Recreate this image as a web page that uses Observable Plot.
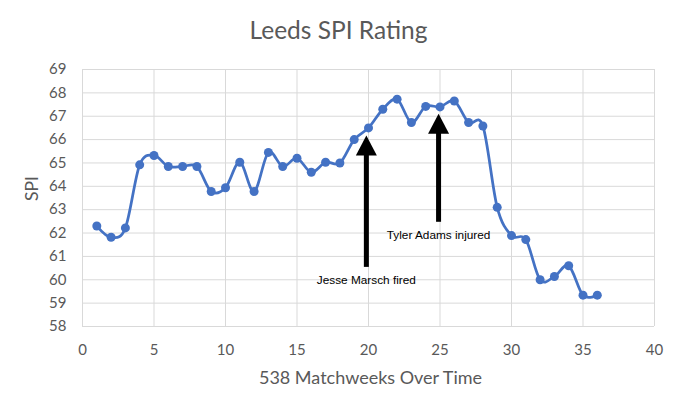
<!DOCTYPE html>
<html><head><meta charset="utf-8">
<script src="https://cdn.jsdelivr.net/npm/d3@7"></script>
<script src="https://cdn.jsdelivr.net/npm/@observablehq/plot@0.6"></script>
<style>body{margin:0;background:#fff;} svg{display:block}</style>
</head><body><div id="chart"></div>
<script>
const title = "Leeds SPI Rating";
const xLabel = "538 Matchweeks Over Time";
const yLabel = "SPI";
const weeks = [1,2,3,4,5,6,7,8,9,10,11,12,13,14,15,16,17,18,19,20,21,22,23,24,25,26,27,28,29,30,31,32,33,34,35,36];
const spi = [62.3,61.82,62.22,64.92,65.32,64.85,64.85,64.85,63.78,63.94,65.03,63.78,65.45,64.85,65.2,64.6,65.03,65.0,66.0,66.5,67.3,67.73,66.73,67.42,67.4,67.65,66.73,66.58,63.1,61.89,61.72,60.0,60.14,60.6,59.34,59.34];
const xTicks = [0,5,10,15,20,25,30,35,40];
const yTicks = [58,59,60,61,62,63,64,65,66,67,68,69];
const eventWeeks = [19.85, 24.9];
const eventLabels = ["Jesse Marsch fired", "Tyler Adams injured"];
const arrowTips = [66.18, 67.11];
const arrowTails = [60.53, 62.46];
const labelLevels = [59.96, 61.91];

const data = weeks.map((w, i) => ({week: w, spi: spi[i]}));
const events = eventWeeks.map((w, i) => ({week: w, label: eventLabels[i], tip: arrowTips[i], tail: arrowTails[i], level: labelLevels[i]}));

const headSymbol = {draw(ctx) { ctx.moveTo(0, 0); ctx.lineTo(-10.5, 20); ctx.lineTo(10.5, 20); ctx.closePath(); }};
const grey = "#595959";

const chart = Plot.plot({
  width: 680, height: 408,
  marginTop: 69, marginRight: 26, marginBottom: 82, marginLeft: 82,
  style: {fontFamily: "Lato, sans-serif", background: "#fff", color: grey},
  x: {domain: [0, 40], ticks: xTicks},
  y: {domain: [58, 69], ticks: yTicks},
  marks: [
    Plot.gridX(xTicks, {stroke: "#d9d9d9", strokeOpacity: 1, strokeWidth: 1}),
    Plot.gridY(yTicks, {stroke: "#d9d9d9", strokeOpacity: 1, strokeWidth: 1}),
    Plot.axisX(xTicks, {tickSize: 0, tickPadding: 18, fontSize: 15, label: null, fill: grey}),
    Plot.axisY(yTicks, {tickSize: 0, tickPadding: 16, fontSize: 15, label: null, fill: grey}),
    Plot.line(data, {x: "week", y: "spi", curve: "cardinal", stroke: "#4472C4", strokeWidth: 2.75}),
    Plot.dot(data, {x: "week", y: "spi", r: 4.5, fill: "#4472C4"}),
    Plot.ruleX(events, {x: "week", y1: "tip", y2: "tail", stroke: "#000", strokeWidth: 5, insetTop: 18}),
    Plot.dot(events, {x: "week", y: "tip", symbol: headSymbol, r: 10, fill: "#000", stroke: null}),
    Plot.text(events, {x: "week", y: "level", text: "label", fontFamily: "'Liberation Sans', Arial, sans-serif", fontSize: 11.8, fill: "#000"}),
    Plot.text([title], {text: d => d, frameAnchor: "top", lineAnchor: "middle", dx: -30, dy: -38, fontSize: 24.5, fill: grey}),
    Plot.text([xLabel], {text: d => d, frameAnchor: "bottom", lineAnchor: "middle", dx: 2, dy: 52, fontSize: 18, fill: grey}),
    Plot.text([yLabel], {text: d => d, frameAnchor: "left", lineAnchor: "middle", dx: -50, dy: 3, rotate: -90, fontSize: 17.5, fill: grey})
  ]
});
document.getElementById("chart").append(chart);
</script>
</body></html>
